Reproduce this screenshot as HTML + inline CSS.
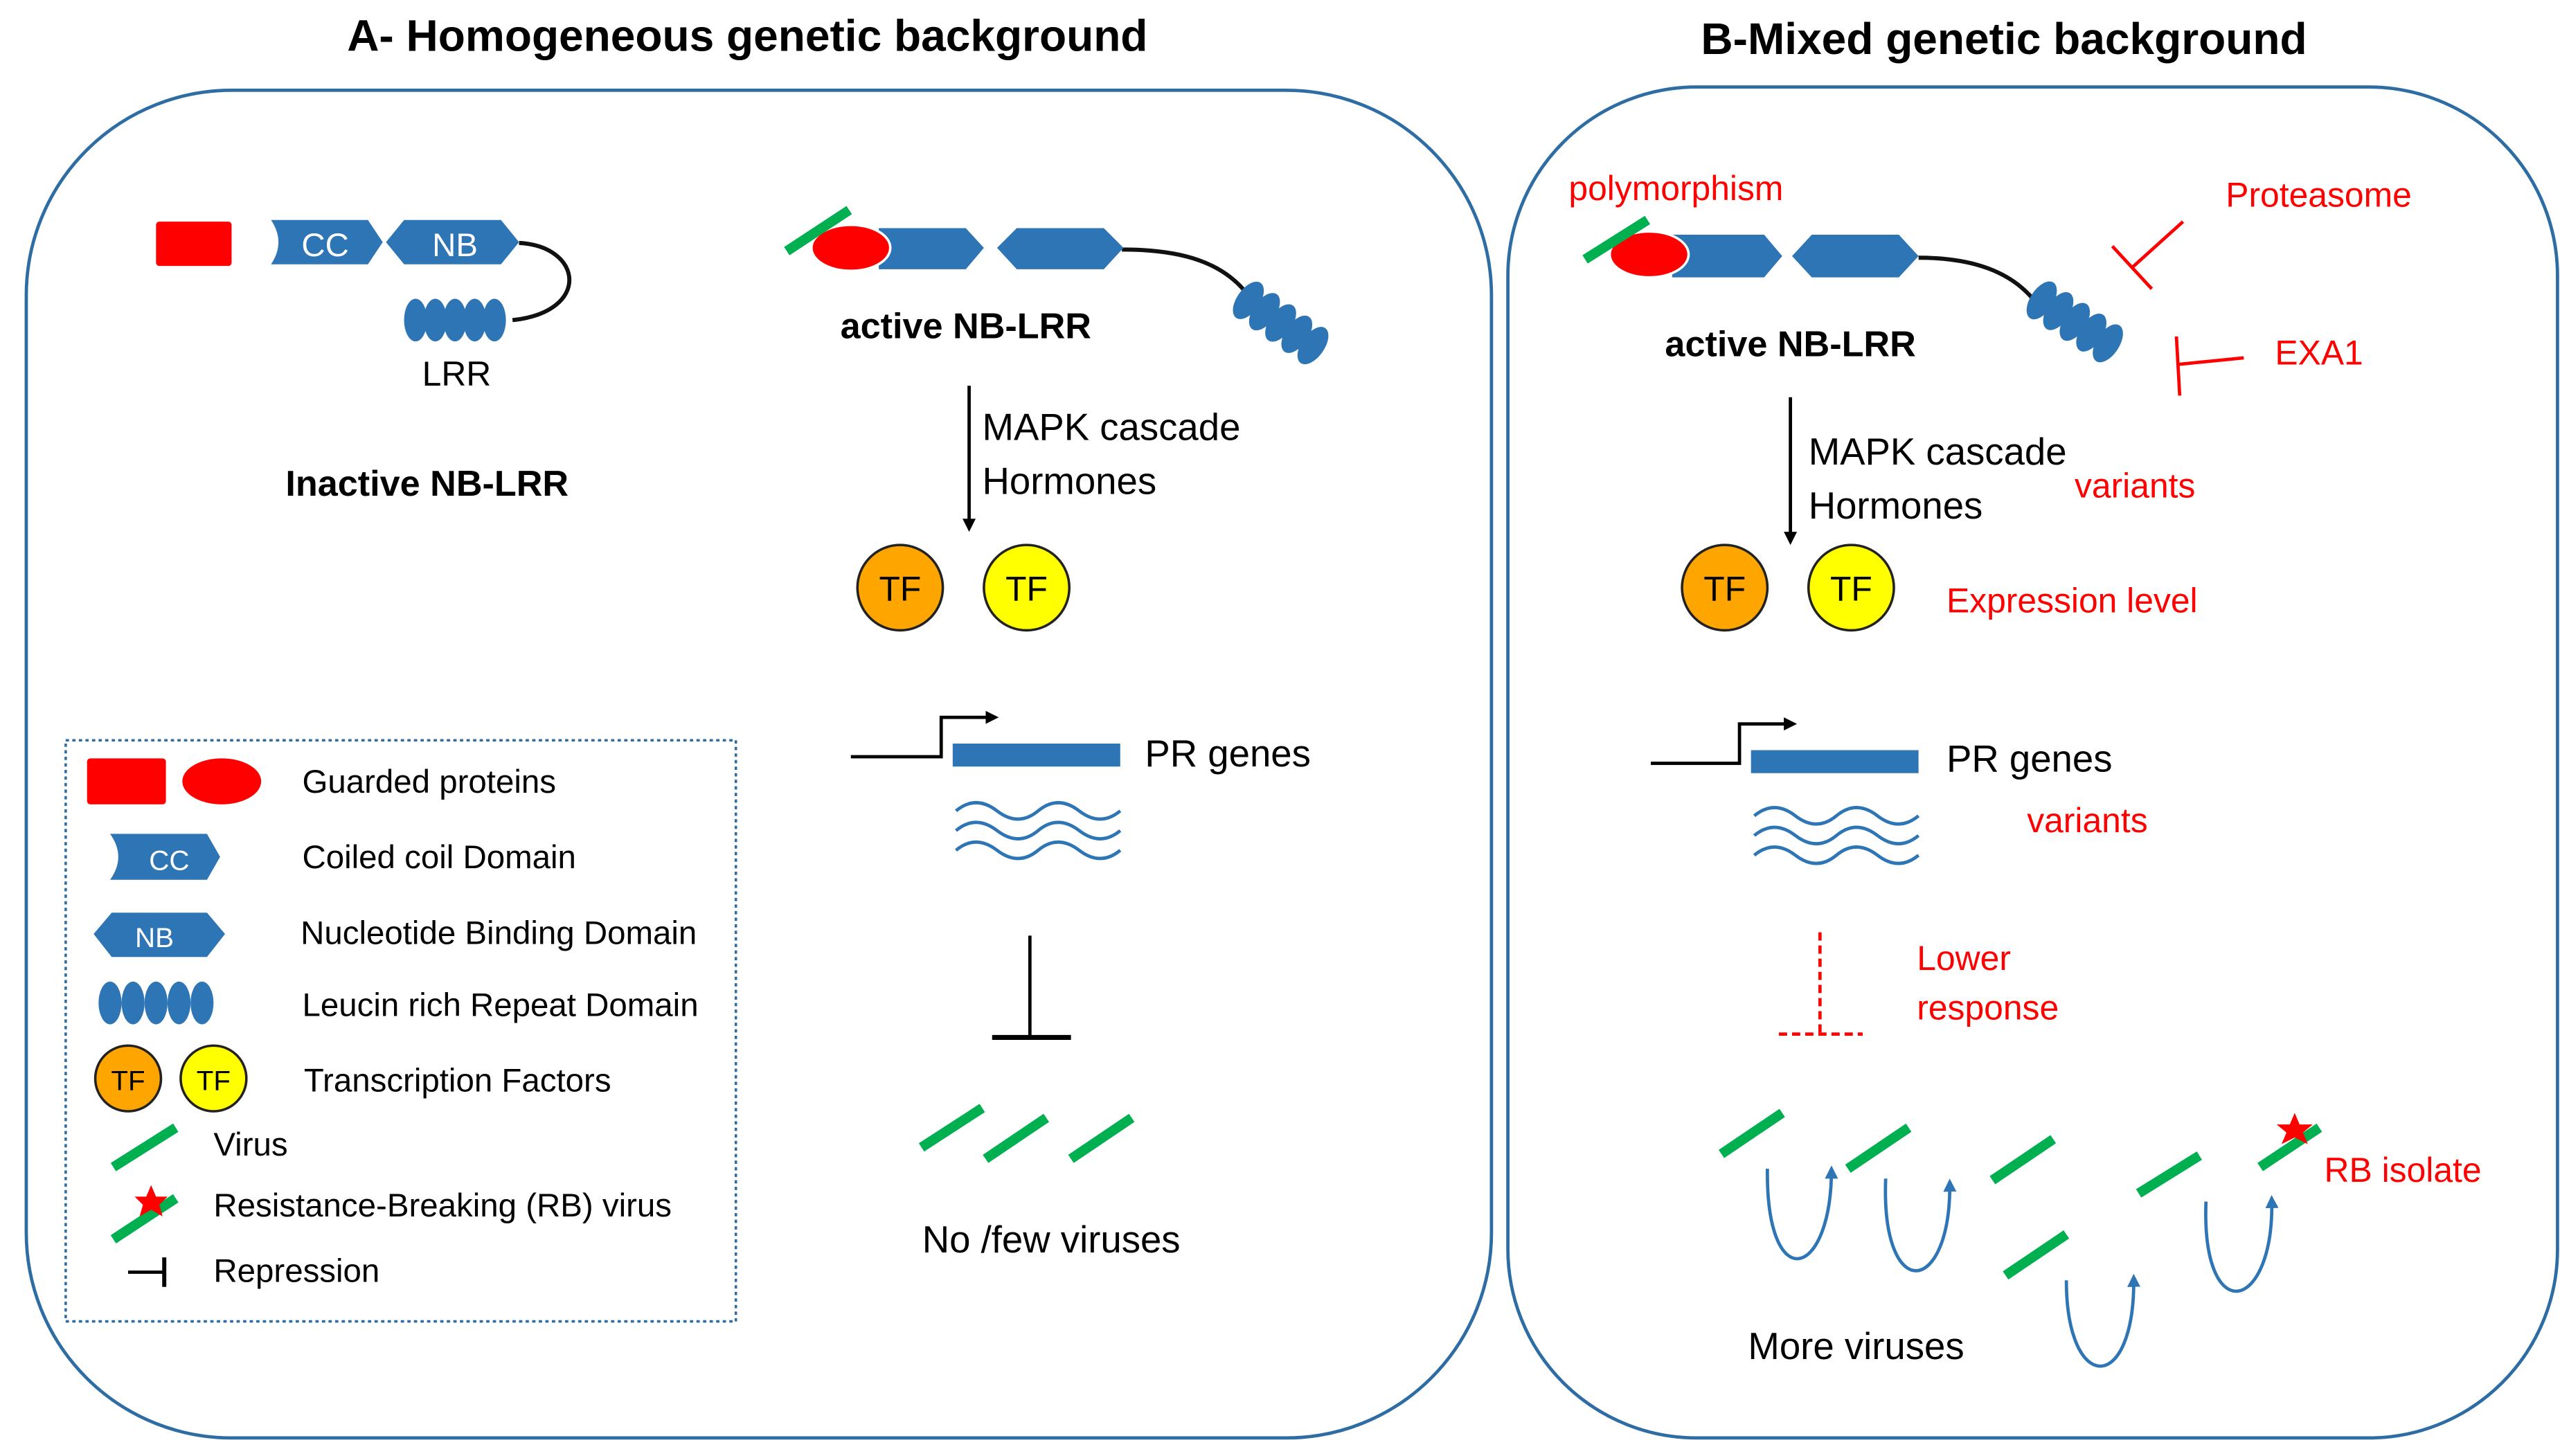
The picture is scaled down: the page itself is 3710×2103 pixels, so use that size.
<!DOCTYPE html>
<html><head><meta charset="utf-8"><style>html,body{margin:0;padding:0;background:#fff}svg{display:block}text{font-family:"Liberation Sans",sans-serif}</style></head><body>
<svg width="3710" height="2103" viewBox="0 0 1564 887" preserveAspectRatio="none" xmlns="http://www.w3.org/2000/svg">
<defs>
<marker id="ah" markerWidth="8" markerHeight="8" refX="6" refY="4" orient="auto" markerUnits="userSpaceOnUse"><path d="M0,0 L8,4 L0,8 z" fill="#000"/></marker>
<marker id="bh" markerWidth="8" markerHeight="8" refX="6" refY="4" orient="auto" markerUnits="userSpaceOnUse"><path d="M0,0 L8,4 L0,8 z" fill="#2e75b6"/></marker>
<g id="lrr"><ellipse cx="0" cy="0" rx="7" ry="13"/><ellipse cx="12" cy="0" rx="7" ry="13"/><ellipse cx="24" cy="0" rx="7" ry="13"/><ellipse cx="36" cy="0" rx="7" ry="13"/><ellipse cx="48" cy="0" rx="7" ry="13"/></g>
</defs>
<g fill="#fff" stroke="#2e6da4" stroke-width="2">
<rect x="16" y="55" width="892" height="821" rx="125"/>
<rect x="918" y="53" width="639" height="823" rx="115"/>
</g>
<text x="455" y="31" font-size="27" font-weight="bold" text-anchor="middle">A- Homogeneous genetic background</text>
<text x="1220" y="33" font-size="27" font-weight="bold" text-anchor="middle">B-Mixed genetic background</text>

<!-- Inactive -->
<rect x="95" y="135" width="46" height="27" rx="2" fill="#f00"/>
<path d="M165,134 H224 L233,147.5 L224,161 H165 Q174,147.5 165,134 z" fill="#2e75b6"/>
<text x="198" y="156" font-size="20" fill="#fff" text-anchor="middle">CC</text>
<path d="M235,147.5 L246,134 H305 L316,147.5 L305,161 H246 z" fill="#2e75b6"/>
<text x="277" y="156" font-size="20" fill="#fff" text-anchor="middle">NB</text>
<path d="M316,148 C355,150 360,190 312,195" fill="none" stroke="#111" stroke-width="2.5"/>
<use href="#lrr" x="253" y="195" fill="#2e75b6"/>
<text x="278" y="235" font-size="21" text-anchor="middle">LRR</text>
<text x="260" y="302" font-size="22" font-weight="bold" text-anchor="middle">Inactive NB-LRR</text>

<!-- Active A -->
<path d="M683,152 C720,152 745,160 760,180" fill="none" stroke="#111" stroke-width="2.5"/>
<path d="M535,139 H588 L599,151 L588,164 H535 z" fill="#2e75b6"/>
<path d="M607,151 L619,139 H672 L684,151 L672,164 H619 z" fill="#2e75b6"/>
<ellipse cx="518" cy="151" rx="24" ry="14" fill="#f00" stroke="#fff" stroke-width="1.5"/>
<line x1="479" y1="153" x2="517" y2="128" stroke="#00b050" stroke-width="6"/>
<g fill="#2e75b6" transform="translate(760,183) rotate(35)"><use href="#lrr" x="0" y="0"/></g>
<text x="588" y="206" font-size="22" font-weight="bold" text-anchor="middle">active NB-LRR</text>
<line x1="590" y1="235" x2="590" y2="322" stroke="#000" stroke-width="2" marker-end="url(#ah)"/>
<text x="598" y="268" font-size="23">MAPK cascade</text>
<text x="598" y="301" font-size="23">Hormones</text>
<circle cx="548" cy="358" r="26" fill="#ffa500" stroke="#222" stroke-width="1.5"/>
<text x="548" y="366" font-size="21" text-anchor="middle">TF</text>
<circle cx="625" cy="358" r="26" fill="#ffff00" stroke="#222" stroke-width="1.5"/>
<text x="625" y="366" font-size="21" text-anchor="middle">TF</text>
<path d="M518,461 H573 V437 H606" fill="none" stroke="#000" stroke-width="2" marker-end="url(#ah)"/>
<rect x="580" y="453" width="102" height="14" fill="#2e75b6"/>
<text x="697" y="467" font-size="23">PR genes</text>
<g fill="none" stroke="#2e75b6" stroke-width="2">
<path d="M582,494 q12,-10 25,0 t25,0 t25,0 t25,0"/><path d="M582,506 q12,-10 25,0 t25,0 t25,0 t25,0"/><path d="M582,518 q12,-10 25,0 t25,0 t25,0 t25,0"/>
</g>
<line x1="627" y1="570" x2="627" y2="632" stroke="#000" stroke-width="2"/>
<line x1="604" y1="632" x2="652" y2="632" stroke="#000" stroke-width="3"/>
<g stroke="#00b050" stroke-width="6">
<line x1="561" y1="699" x2="598" y2="675"/><line x1="600" y1="706" x2="637" y2="681"/><line x1="652" y1="706" x2="689" y2="681"/>
</g>
<text x="640" y="763" font-size="23" text-anchor="middle">No /few viruses</text>

<!-- Legend -->
<rect x="40" y="451" width="408" height="354" fill="none" stroke="#2e6da4" stroke-width="1.5" stroke-dasharray="2,2"/>
<rect x="53" y="462" width="48" height="28" rx="2" fill="#f00"/>
<ellipse cx="135" cy="476" rx="24" ry="14" fill="#f00"/>
<text x="184" y="483" font-size="20">Guarded proteins</text>
<path d="M67,508 H126 L134,522 L126,536 H67 Q77,522 67,508 z" fill="#2e75b6"/>
<text x="103" y="530" font-size="17" fill="#fff" text-anchor="middle">CC</text>
<text x="184" y="529" font-size="20">Coiled coil Domain</text>
<path d="M57,569 L68,556 H126 L137,569 L126,583 H68 z" fill="#2e75b6"/>
<text x="94" y="577" font-size="17" fill="#fff" text-anchor="middle">NB</text>
<text x="183" y="575" font-size="20">Nucleotide Binding Domain</text>
<g fill="#2e75b6"><ellipse cx="67" cy="611" rx="7" ry="13"/><ellipse cx="81" cy="611" rx="7" ry="13"/><ellipse cx="95" cy="611" rx="7" ry="13"/><ellipse cx="109" cy="611" rx="7" ry="13"/><ellipse cx="123" cy="611" rx="7" ry="13"/></g>
<text x="184" y="619" font-size="20">Leucin rich Repeat Domain</text>
<circle cx="78" cy="657" r="20" fill="#ffa500" stroke="#222" stroke-width="1.5"/>
<text x="78" y="664" font-size="17" text-anchor="middle">TF</text>
<circle cx="130" cy="657" r="20" fill="#ffff00" stroke="#222" stroke-width="1.5"/>
<text x="130" y="664" font-size="17" text-anchor="middle">TF</text>
<text x="185" y="665" font-size="20">Transcription Factors</text>
<line x1="69" y1="711" x2="107" y2="687" stroke="#00b050" stroke-width="6"/>
<text x="130" y="704" font-size="20">Virus</text>
<line x1="69" y1="755" x2="107" y2="730" stroke="#00b050" stroke-width="6"/>
<polygon points="92,722 95,729 102,729 97,734 99,741 92,737 85,741 87,734 82,729 89,729" fill="#f00"/>
<text x="130" y="741" font-size="20">Resistance-Breaking  (RB) virus</text>
<line x1="78" y1="775" x2="100" y2="775" stroke="#000" stroke-width="2"/>
<line x1="100" y1="766" x2="100" y2="784" stroke="#000" stroke-width="2.5"/>
<text x="130" y="781" font-size="20">Repression</text>

<!-- Panel B -->
<text x="955" y="122" font-size="21" fill="#f00">polymorphism</text>
<text x="1355" y="126" font-size="21" fill="#f00">Proteasome</text>
<text x="1385" y="222" font-size="21" fill="#f00">EXA1</text>
<g stroke="#f00" stroke-width="2">
<line x1="1329" y1="135" x2="1298" y2="163"/><line x1="1286" y1="150" x2="1310" y2="176"/>
<line x1="1366" y1="218" x2="1326" y2="222"/><line x1="1325" y1="205" x2="1327" y2="241"/>
</g>
<path d="M1168,157 C1200,157 1225,165 1240,185" fill="none" stroke="#111" stroke-width="2.5"/>
<path d="M1018,143 H1074 L1085,156 L1074,169 H1018 z" fill="#2e75b6"/>
<path d="M1091,156 L1103,143 H1156 L1168,156 L1156,169 H1103 z" fill="#2e75b6"/>
<ellipse cx="1004" cy="155" rx="24" ry="14" fill="#f00" stroke="#fff" stroke-width="1.5"/>
<line x1="965" y1="158" x2="1003" y2="134" stroke="#00b050" stroke-width="6"/>
<g fill="#2e75b6" transform="translate(1243,183) rotate(33)"><use href="#lrr" x="0" y="0"/></g>
<text x="1090" y="217" font-size="22" font-weight="bold" text-anchor="middle">active NB-LRR</text>
<line x1="1090" y1="242" x2="1090" y2="330" stroke="#000" stroke-width="2" marker-end="url(#ah)"/>
<text x="1101" y="283" font-size="23">MAPK cascade</text>
<text x="1101" y="316" font-size="23">Hormones</text>
<text x="1263" y="303" font-size="21" fill="#f00">variants</text>
<circle cx="1050" cy="358" r="26" fill="#ffa500" stroke="#222" stroke-width="1.5"/>
<text x="1050" y="366" font-size="21" text-anchor="middle">TF</text>
<circle cx="1127" cy="358" r="26" fill="#ffff00" stroke="#222" stroke-width="1.5"/>
<text x="1127" y="366" font-size="21" text-anchor="middle">TF</text>
<text x="1185" y="373" font-size="21" fill="#f00">Expression level</text>
<path d="M1005,465 H1059 V441 H1092" fill="none" stroke="#000" stroke-width="2" marker-end="url(#ah)"/>
<rect x="1066" y="457" width="102" height="14" fill="#2e75b6"/>
<text x="1185" y="470" font-size="23">PR genes</text>
<g fill="none" stroke="#2e75b6" stroke-width="2">
<path d="M1068,497 q12,-10 25,0 t25,0 t25,0 t25,0"/><path d="M1068,509 q12,-10 25,0 t25,0 t25,0 t25,0"/><path d="M1068,521 q12,-10 25,0 t25,0 t25,0 t25,0"/>
</g>
<text x="1234" y="507" font-size="21" fill="#f00">variants</text>
<g stroke="#f00" stroke-width="2" stroke-dasharray="5,3">
<line x1="1108" y1="568" x2="1108" y2="630"/><line x1="1083" y1="630" x2="1134" y2="630"/>
</g>
<text x="1167" y="591" font-size="21" fill="#f00">Lower</text>
<text x="1167" y="621" font-size="21" fill="#f00">response</text>
<g stroke="#00b050" stroke-width="6">
<line x1="1048" y1="703" x2="1085" y2="678"/><line x1="1125" y1="712" x2="1162" y2="687"/>
<line x1="1213" y1="719" x2="1250" y2="694"/><line x1="1221" y1="777" x2="1258" y2="752"/>
<line x1="1302" y1="727" x2="1339" y2="704"/><line x1="1376" y1="711" x2="1412" y2="687"/>
</g>
<polygon points="1397,678 1400,685 1408,685 1402,690 1405,697 1397,693 1389,697 1392,690 1386,685 1394,685" fill="#f00"/>
<g fill="none" stroke="#2e75b6" stroke-width="2" marker-end="url(#bh)">
<path d="M1076,712 C1075,790 1115,780 1115,712"/>
<path d="M1148,718 C1145,795 1188,790 1187,720"/>
<path d="M1258,780 C1258,850 1300,850 1299,778"/>
<path d="M1343,732 C1340,810 1385,800 1383,730"/>
</g>
<text x="1130" y="828" font-size="23" text-anchor="middle">More viruses</text>
<text x="1415" y="720" font-size="21" fill="#f00">RB isolate</text>
</svg>
</body></html>
